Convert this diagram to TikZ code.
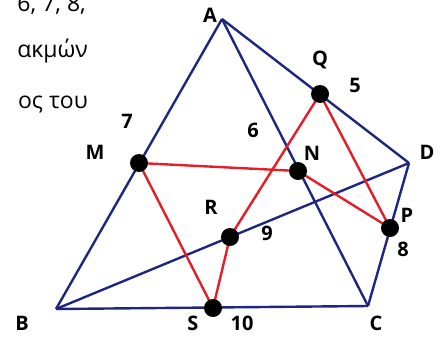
\documentclass[tikz,border=0pt]{standalone}
\usepackage{fontspec}
\setmainfont{Open Sans}
\usetikzlibrary{backgrounds}
\definecolor{edgeblue}{RGB}{30,38,125}
\definecolor{edgered}{RGB}{228,30,40}

\begin{document}
\begin{tikzpicture}[
            x=1pt,
            y=-1pt,
            every node/.style={
                inner sep=0pt
            },
            dot/.style={
                circle,
                fill=black,
                minimum size=18pt
            },
            lbl/.style={
                font=\fontsize{20}{20}\selectfont\bfseries
            },
            txt/.style={
                font=\fontsize{23}{23}\selectfont,
                anchor=base east
            },
            blueline/.style={
                edgeblue,
                line width=2.4pt
            },
            redline/.style={
                edgered,
                line width=2.4pt
            }
        ]
            \useasboundingbox (0,0) rectangle (443,340);
            \clip (0,0) rectangle (443,340);

            % cut-off text
            \node[txt] (t1) at (86,12) {6, 7, 8,};
            \node[txt] (t2) at (88,57) {ακμών};
            \node[txt] (t3) at (88,108) {ος του};

            \coordinate (A) at (222,19);
            \coordinate (B) at (56,309);
            \coordinate (C) at (368,306);
            \coordinate (D) at (409,163);

            \node[dot] (Q) at (320,94) {};
            \node[dot] (N) at (298,171) {};
            \node[dot] (M) at (139,163) {};
            \node[dot] (R) at (230,237) {};
            \node[dot] (S) at (213,308) {};
            \node[dot] (P) at (390,228) {};

            \begin{scope}[on background layer]
            \draw[blueline] (A)--(B);
            \draw[blueline] (A)--(D);
            \draw[blueline] (A)--(C);
            \draw[blueline] (B)--(C);
            \draw[blueline] (B)--(D);
            \draw[blueline] (D)--(C);

            \draw[redline] (M.center)--(N.center);
            \draw[redline] (M.center)--(S.center);
            \draw[redline] (Q.center)--(R.center);
            \draw[redline] (R.center)--(S.center);
            \draw[redline] (Q.center)--(P.center);
            \draw[redline] (N.center)--(P.center);
            \end{scope}

            \node[lbl] (lA) at (210,15) {A};
            \node[lbl] (lB) at (22,323) {B};
            \node[lbl] (lC) at (376,323) {C};
            \node[lbl] (lD) at (427,152) {D};
            \node[lbl] (lQ) at (320,60) {Q};
            \node[lbl] (lN) at (312,153) {N};
            \node[lbl] (lM) at (95,152) {M};
            \node[lbl] (lR) at (211,207) {R};
            \node[lbl] (lP) at (407,215) {P};
            \node[lbl] (lS) at (193,323) {S};
            \node[lbl] (n5) at (355,85) {5};
            \node[lbl] (n6) at (253,130) {6};
            \node[lbl] (n7) at (127,121) {7};
            \node[lbl] (n8) at (403,249) {8};
            \node[lbl] (n9) at (267,233) {9};
            \node[lbl] (n10) at (242,323) {10};
        \end{tikzpicture}
\end{document}
